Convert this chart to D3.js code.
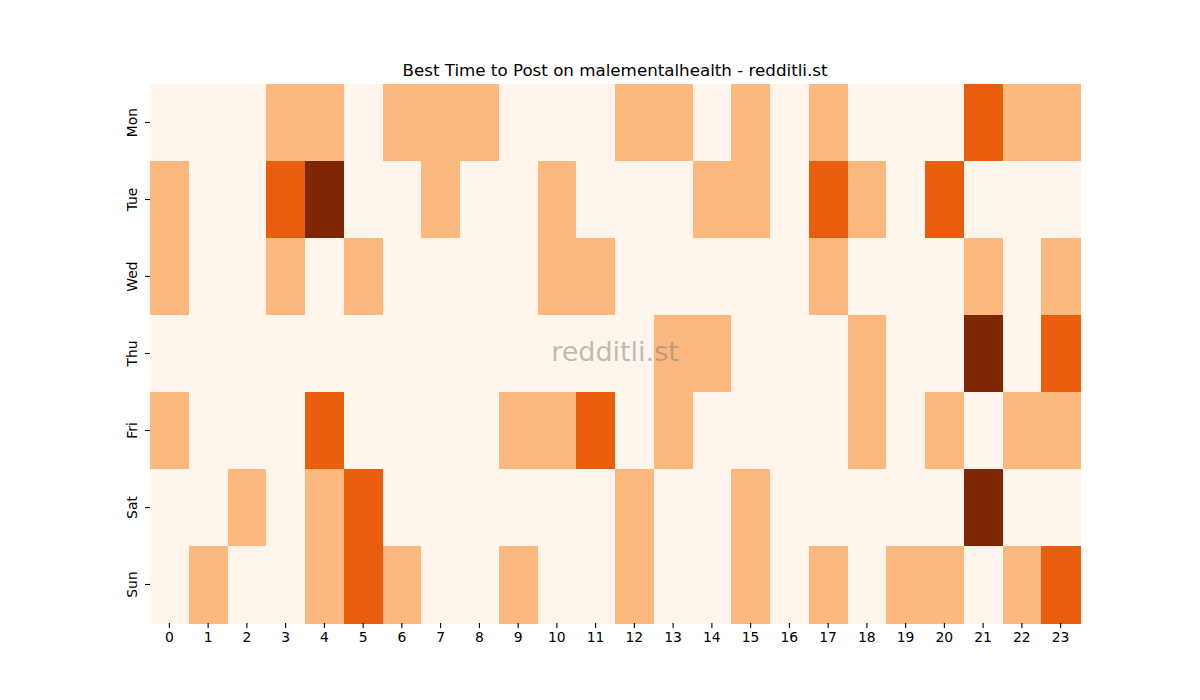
<!DOCTYPE html>
<html>
<head>
<meta charset="utf-8">
<script src="https://cdn.jsdelivr.net/npm/d3@7"></script>
<style>
  body { margin: 0; background: #fff; }
  svg { font-family: "DejaVu Sans", sans-serif; }
</style>
</head>
<body>
<div id="chart"></div>
<script>
// Data: level 0-3 per hour
const days = ["Mon", "Tue", "Wed", "Thu", "Fri", "Sat", "Sun"];
const hours = d3.range(24);
const mon = [0,0,0,1,1,0,1,1,1,0,0,0,1,1,0,1,0,1,0,0,0,2,1,1];
const tue = [1,0,0,2,3,0,0,1,0,0,1,0,0,0,1,1,0,2,1,0,2,0,0,0];
const wed = [1,0,0,1,0,1,0,0,0,0,1,1,0,0,0,0,0,1,0,0,0,1,0,1];
const thu = [0,0,0,0,0,0,0,0,0,0,0,0,0,1,1,0,0,0,1,0,0,3,0,2];
const fri = [1,0,0,0,2,0,0,0,0,1,1,2,0,1,0,0,0,0,1,0,1,0,1,1];
const sat = [0,0,1,0,1,2,0,0,0,0,0,0,1,0,0,1,0,0,0,0,0,3,0,0];
const sun = [0,1,0,0,1,2,1,0,0,1,0,0,1,0,0,1,0,1,0,1,1,0,1,2];
const rows = [mon, tue, wed, thu, fri, sat, sun];

const width = 1200;
const height = 700;
const marginTop = 84;
const marginRight = 120;
const marginBottom = 77;
const marginLeft = 150;

const cells = [];
rows.forEach((r, i) => r.forEach((v, h) => cells.push({ day: days[i], hour: h, value: v })));

const x = d3.scaleBand()
    .domain(hours)
    .range([marginLeft, width - marginRight]);

const y = d3.scaleBand()
    .domain(days)
    .range([marginTop, height - marginBottom]);

const color = d3.scaleOrdinal()
    .domain([0, 1, 2, 3])
    .range(["#fff5eb", "#fdb97d", "#e95e0d", "#7f2704"]);

const svg = d3.select("#chart").append("svg")
    .attr("width", width)
    .attr("height", height)
    .attr("viewBox", [0, 0, width, height]);

svg.append("g")
    .attr("shape-rendering", "crispEdges")
    .selectAll("rect")
    .data(cells)
    .join("rect")
    .attr("x", d => x(d.hour))
    .attr("y", d => y(d.day))
    .attr("width", x.bandwidth() + 0.5)
    .attr("height", y.bandwidth() + 0.5)
    .attr("fill", d => color(d.value));

// axes
svg.append("g")
    .attr("transform", `translate(0,${height - marginBottom})`)
    .call(d3.axisBottom(x).tickSize(4.9).tickPadding(4))
    .call(g => g.select(".domain").remove())
    .call(g => g.selectAll("text").attr("font-size", 13.9).attr("fill", "#000").attr("font-family", "DejaVu Sans"))
    .call(g => g.selectAll(".tick line").attr("stroke", "#000").attr("stroke-width", 1.1));

svg.append("g")
    .attr("transform", `translate(${marginLeft},0)`)
    .call(d3.axisLeft(y).tickSize(4.9).tickPadding(4))
    .call(g => g.select(".domain").remove())
    .call(g => g.selectAll(".tick line").attr("stroke", "#000").attr("stroke-width", 1.1))
    .call(g => g.selectAll("text")
        .attr("font-size", 13.9)
        .attr("fill", "#000")
        .attr("font-family", "DejaVu Sans")
        .attr("x", null)
        .attr("dy", null)
        .attr("text-anchor", "middle")
        .attr("transform", "translate(-17,0) rotate(-90)")
        .attr("dominant-baseline", "middle"));

// title
svg.append("text")
    .attr("x", (marginLeft + width - marginRight) / 2)
    .attr("y", 76)
    .attr("text-anchor", "middle")
    .attr("font-size", 16.7)
    .attr("fill", "#000")
    .text("Best Time to Post on malementalhealth - redditli.st");

// watermark
svg.append("text")
    .attr("x", (marginLeft + width - marginRight) / 2)
    .attr("y", (marginTop + height - marginBottom) / 2)
    .attr("text-anchor", "middle")
    .attr("dominant-baseline", "middle")
    .attr("font-size", 27)
    .attr("fill", "#808080")
    .attr("fill-opacity", 0.5)
    .text("redditli.st");
</script>
</body>
</html>
